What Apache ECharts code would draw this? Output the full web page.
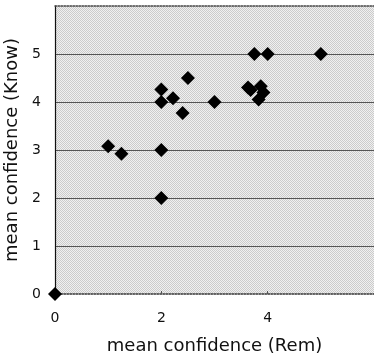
<!DOCTYPE html>
<html>
<head>
<meta charset="utf-8">
<script src="https://cdn.jsdelivr.net/npm/echarts@6/dist/echarts.min.js"></script>
<style>
  html, body { margin: 0; padding: 0; background: #fff; }
  #chart { width: 374px; height: 358px; }
</style>
</head>
<body>
<div id="chart"></div>
<script>
// mean confidence values
var remValues = [0, 1.0, 1.25, 2, 2, 2, 2, 2.22, 2.4, 2.5, 3, 3.63, 3.68, 3.75, 3.83, 3.87, 3.92, 4, 5];
var knowValues = [0, 3.08, 2.92, 2, 3, 4, 4.26, 4.08, 3.77, 4.5, 4, 4.3, 4.25, 5, 4.05, 4.33, 4.2, 5, 5];
var xTicks = [0, 2, 4];
var yTicks = [0, 1, 2, 3, 4, 5];

var points = remValues.map(function (x, i) { return [x, knowValues[i]]; });

// stippled grey fill like the printed figure
var tex = document.createElement('canvas');
tex.width = 2; tex.height = 2;
var tc = tex.getContext('2d');
tc.fillStyle = '#f0f0f0'; tc.fillRect(0, 0, 2, 2);
tc.fillStyle = '#cbcbcb'; tc.fillRect(0, 0, 1, 1); tc.fillRect(1, 1, 1, 1);

var chart = echarts.init(document.getElementById('chart'));
var font = 'DejaVu Sans';

chart.setOption({
  animation: false,
  grid: {
    left: 55, right: 0, top: 6, bottom: 64,
    outerBoundsMode: 'none',
    containLabel: false,
    show: true,
    backgroundColor: { image: tex, repeat: 'repeat' },
    borderWidth: 0
  },
  xAxis: [{
    type: 'value',
    min: 0, max: 6, interval: 2,
    name: 'mean confidence (Rem)',
    nameLocation: 'middle',
    nameGap: 43,
    nameTextStyle: { color: '#111', fontSize: 18, fontFamily: font },
    axisLine: { show: true, lineStyle: { color: '#333', type: 'dotted', width: 1.5 } },
    axisTick: { show: true, inside: true, length: 3, lineStyle: { color: '#555' } },
    axisLabel: {
      color: '#111', fontSize: 14, fontFamily: font, margin: 17,
      formatter: function (v) { return xTicks.indexOf(v) >= 0 ? String(v) : ''; }
    },
    splitLine: { show: false }
  }, {
    type: 'value',
    position: 'top',
    min: 0, max: 6,
    axisLine: { show: true, lineStyle: { color: '#444', type: 'dotted', width: 1.5 } },
    axisTick: { show: false },
    axisLabel: { show: false },
    splitLine: { show: false }
  }],
  yAxis: {
    type: 'value',
    min: 0, max: 6, interval: 1,
    name: 'mean confidence (Know)',
    nameLocation: 'middle',
    nameGap: 29,
    nameTextStyle: { color: '#111', fontSize: 18, fontFamily: font },
    axisLine: { show: true, lineStyle: { color: '#111', width: 1.2 } },
    axisTick: { show: false },
    axisLabel: {
      color: '#111', fontSize: 14, fontFamily: font, margin: 14,
      formatter: function (v) { return yTicks.indexOf(v) >= 0 ? String(v) : ''; }
    },
    splitLine: {
      show: true, showMinLine: false, showMaxLine: false,
      lineStyle: { color: '#555', width: 1 }
    }
  },
  series: [{
    type: 'scatter',
    xAxisIndex: 0,
    symbol: 'diamond',
    symbolSize: 14,
    itemStyle: { color: '#000', opacity: 1 },
    data: points,
    clip: false
  }]
});
</script>
</body>
</html>
